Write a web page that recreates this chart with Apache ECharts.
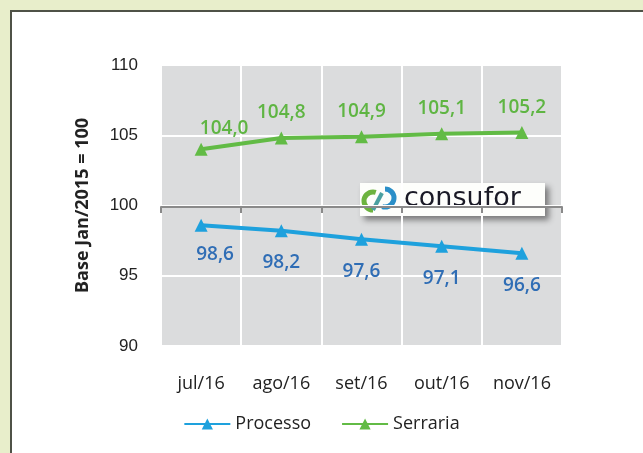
<!DOCTYPE html>
<html><head><meta charset="utf-8">
<script src="https://cdn.jsdelivr.net/npm/echarts@6/dist/echarts.min.js"></script>
<style>
html,body{margin:0;padding:0;width:643px;height:453px;background:#e8eecb;overflow:hidden}
#panel{position:absolute;left:10px;top:10px;right:0;bottom:0;background:#fff;border-left:2px solid #4f5247;border-top:2px solid #4f5247}
#chart{position:absolute;left:0;top:0;width:643px;height:453px}
</style></head>
<body><div id="panel"></div><div id="chart"></div>
<script>
const categories = ['jul/16','ago/16','set/16','out/16','nov/16'];
const processo = [98.6, 98.2, 97.6, 97.1, 96.6];
const serraria = [104.0, 104.8, 104.9, 105.1, 105.2];
const yTicks = {min: 90, max: 110, interval: 5};
const seriesNames = ['Processo','Serraria'];
const yTitle = 'Base Jan/2015 = 100';

const fmt = p => p.value.toFixed(1).replace('.', ',');
const chart = echarts.init(document.getElementById('chart'));
chart.setOption({
  backgroundColor: 'transparent',
  animation: false,
  grid: {left: 161, top: 65, right: 81, bottom: 107, show: true, backgroundColor: '#dbdcdd', borderWidth: 0},
  legend: {
    bottom: 15, left: 'center', itemWidth: 46, itemHeight: 14, itemGap: 30,
    textStyle: {fontFamily: 'Open Sans', fontSize: 18, color: '#222'},
    data: seriesNames
  },
  xAxis: [{
    type: 'category', data: categories, boundaryGap: true,
    axisLine: {show: false}, axisTick: {show: false},
    axisLabel: {fontFamily: 'Open Sans', fontSize: 18, color: '#222', margin: 29},
    splitLine: {show: true, lineStyle: {color: '#ffffff', width: 2}}
  }, {
    type: 'category', data: categories, boundaryGap: true, position: 'bottom', offset: -139,
    axisLine: {show: true, lineStyle: {color: '#8a8a8a', width: 2}},
    axisTick: {show: true, length: 6, lineStyle: {color: '#8a8a8a', width: 2}},
    axisLabel: {show: false}, splitLine: {show: false}
  }],
  yAxis: {
    type: 'value', min: yTicks.min, max: yTicks.max, interval: yTicks.interval,
    name: yTitle, nameLocation: 'middle', nameGap: 69, nameRotate: 90,
    nameTextStyle: {fontFamily: 'Open Sans', fontSize: 18, fontWeight: 'bold', color: '#222'},
    axisLine: {show: false}, axisTick: {show: false},
    axisLabel: {fontFamily: 'Liberation Sans', fontSize: 17, color: '#222', margin: 23},
    splitLine: {show: true, lineStyle: {color: '#ffffff', width: 2}}
  },
  series: [{
    name: seriesNames[0], type: 'line', data: processo.map((v, i) => i === 0 ? {value: v, label: {offset: [14, -3]}} : v), xAxisIndex: 0,
    symbol: 'triangle', symbolSize: 13,
    lineStyle: {color: '#1ea1dd', width: 4}, itemStyle: {color: '#1ea1dd'},
    label: {show: true, position: 'bottom', distance: 16, formatter: fmt,
      fontFamily: 'Open Sans', fontSize: 19, fontWeight: 600, color: '#2f6db5'}
  }, {
    name: seriesNames[1], type: 'line', data: serraria.map((v, i) => i === 0 ? {value: v, label: {offset: [23, 4]}} : v), xAxisIndex: 0,
    symbol: 'triangle', symbolSize: 13,
    lineStyle: {color: '#62bb45', width: 4}, itemStyle: {color: '#62bb45'},
    label: {show: true, position: 'top', distance: 9, formatter: fmt,
      fontFamily: 'Open Sans', fontSize: 19, fontWeight: 600, color: '#5fb543'}
  }],
  graphic: [{
    type: 'group', left: 360, top: 183, z: 100,
    children: [
      {type: 'rect', shape: {x: 0, y: 0, width: 185, height: 33},
       style: {fill: '#fdfefb', shadowBlur: 6, shadowOffsetX: 4, shadowOffsetY: 4, shadowColor: 'rgba(0,0,0,0.45)'}},
      {type: 'arc', shape: {cx: 13, cy: 18, r: 9, startAngle: Math.PI * 0.5, endAngle: Math.PI * 1.6, clockwise: true},
       style: {stroke: '#6cb33f', lineWidth: 5, fill: null}},
      {type: 'arc', shape: {cx: 25, cy: 15, r: 9, startAngle: -Math.PI * 0.5, endAngle: Math.PI * 0.6, clockwise: true},
       style: {stroke: '#2a8fc8', lineWidth: 5, fill: null}},
      {type: 'line', shape: {x1: 13, y1: 27, x2: 22, y2: 10}, style: {stroke: '#4aa0a0', lineWidth: 4}},
      {type: 'text', x: 44, y: 16, style: {text: 'consufor', fontFamily: 'DejaVu Sans', fontSize: 27, fill: '#1a1a26', verticalAlign: 'middle', textAlign: 'left', letterSpacing: 2.5}}
    ]
  }]
});
</script></body></html>
